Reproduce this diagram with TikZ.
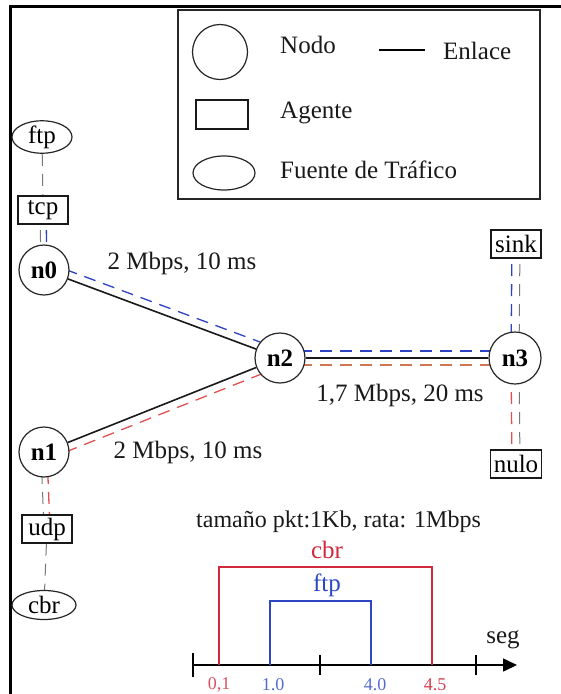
\documentclass[tikz,border=0pt]{standalone}
\usepackage{fontspec}
\setmainfont{Liberation Serif}
\usetikzlibrary{calc,arrows.meta,backgrounds,shapes.geometric}
\definecolor{lblue}{RGB}{45,65,195}
\definecolor{lred}{RGB}{225,80,80}
\definecolor{lorange}{RGB}{205,120,85}
\definecolor{lgray}{RGB}{120,120,120}
\definecolor{tred}{RGB}{210,40,60}
\definecolor{tblue}{RGB}{45,70,195}
\begin{document}
\begin{tikzpicture}[x=1pt,y=-1pt,
  txt/.style={font=\fontsize{25}{28}\selectfont, inner sep=0pt, text=black!90},
  small/.style={font=\fontsize{24}{27}\selectfont, inner sep=0pt, text=black!90},
  tick/.style={font=\fontsize{18}{20}\selectfont, inner sep=0pt},
  nodo/.style={circle, draw=black!85, line width=1.2pt, fill=white, minimum size=50pt, inner sep=0pt, font=\fontsize{25}{28}\selectfont\bfseries},
  agente/.style={rectangle, draw=black!90, line width=1.3pt, fill=white, inner xsep=3pt, inner ysep=0pt, minimum width=50pt, minimum height=28pt, font=\fontsize{25}{28}\selectfont},
  fuente/.style={ellipse, draw=black!85, line width=1.2pt, fill=white, inner sep=0pt, minimum width=60pt, minimum height=29pt, font=\fontsize{25}{28}\selectfont},
  link/.style={draw=black!90, line width=1.6pt},
  bdash/.style={draw=lblue, line width=1.3pt, dash pattern=on 12pt off 8pt},
  rdash/.style={draw=lred, line width=1.3pt, dash pattern=on 12pt off 8pt},
  odash/.style={draw=lorange, line width=1.3pt, dash pattern=on 12pt off 8pt},
  gdash/.style={draw=lgray, line width=1pt, dash pattern=on 12pt off 8pt},
]
\useasboundingbox (0,0) rectangle (561,694);
% frame
\draw[line width=3pt] (10,694) -- (10,6) -- (561,6);

% legend
\node[draw=black!85, line width=1.3pt, minimum width=362pt, minimum height=189pt, inner sep=0pt] (legend) at (359,104.5) {};
\node[circle, draw=black!85, line width=1.2pt, minimum size=55pt, inner sep=0pt] (lnodo) at (220,52) {};
\node[txt, anchor=west] (tnodo) at (280,45) {Nodo};
\coordinate (ll1) at (379,50);
\coordinate (ll2) at (425,50);
\draw[line width=1.3pt] (ll1) -- (ll2);
\node[txt, anchor=west] (tenlace) at (443,51) {Enlace};
\node[draw=black!90, line width=1.3pt, minimum width=52pt, minimum height=29pt, inner sep=0pt] (lagente) at (222,114.5) {};
\node[txt, anchor=west] (tagente) at (280,113) {Agente};
\node[ellipse, draw=black!85, line width=1.2pt, minimum width=62pt, minimum height=34pt, inner sep=0pt] (lfuente) at (224,173) {};
\node[txt, anchor=west] (tfuente) at (280,170) {Fuente de Tráfico};

% network nodes
\node[nodo] (n0) at (44,270) {n0};
\node[nodo] (n1) at (44,452) {n1};
\node[nodo] (n2) at (280,358) {n2};
\node[nodo, minimum size=52pt] (n3) at (515,358) {n3};
\node[fuente] (ftp) at (42,137) {ftp};
\node[agente] (tcp) at (43,210) {tcp};
\node[agente] (sink) at (516,244) {sink};
\node[agente] (nulo) at (516,464) {nulo};
\node[agente] (udp) at (47,529) {udp};
\node[fuente, minimum width=64pt] (cbr) at (44,605) {cbr};

% link labels
\node[txt] (l02) at (182,263) {2 Mbps, 10 ms};
\node[txt] (l12) at (188,452) {2 Mbps, 10 ms};
\node[txt] (l23) at (400,395) {1,7 Mbps, 20 ms};
\node[small, anchor=west] (info) at (196,522) {tamaño pkt:1Kb, rata: 1Mbps};

\begin{scope}[on background layer]
  % links
  \draw[link] (n0) -- (n2);
  \draw[link] (n1) -- (n2);
  \draw[link] (n2) -- (n3);
  % flows
  \draw[bdash] ($(n0)!8pt!90:(n2)$) -- ($(n2)!8pt!-90:(n0)$);
  \draw[rdash] ($(n1)!8pt!-90:(n2)$) -- ($(n2)!8pt!90:(n1)$);
  \draw[bdash] ($(n2)!7pt!90:(n3)$) -- ($(n3)!7pt!-90:(n2)$);
  \draw[odash] ($(n2)!7pt!-90:(n3)$) -- ($(n3)!7pt!90:(n2)$);
  % vertical attachments
  \draw[gdash] (ftp) -- (tcp);
  \draw[gdash] ([xshift=-3pt]tcp.center) -- ([xshift=-3pt]n0.center);
  \draw[bdash] ([xshift=3pt]tcp.center) -- ([xshift=3pt]n0.center);
  \draw[bdash] ([xshift=-4pt]sink.center) -- ([xshift=-4pt]n3.center);
  \draw[gdash] ([xshift=4pt]sink.center) -- ([xshift=4pt]n3.center);
  \draw[rdash] ([xshift=-4pt]nulo.center) -- ([xshift=-4pt]n3.center);
  \draw[gdash] ([xshift=4pt]nulo.center) -- ([xshift=4pt]n3.center);
  \draw[gdash] ([xshift=-3pt]n1.center) -- ([xshift=-3pt]udp.center);
  \draw[rdash] ([xshift=3pt]n1.center) -- ([xshift=3pt]udp.center);
  \draw[gdash] (udp) -- (cbr);
\end{scope}

% timeline
\coordinate (t0) at (193,665);
\coordinate (tend) at (517,665);
\draw[line width=1.6pt, -{Triangle[length=14pt,width=13pt]}] (t0) -- (tend);
\draw[line width=1.6pt] (193,653) -- (193,677);
\draw[line width=1.6pt] (320,655) -- (320,675);
\draw[line width=1.6pt] (476,655) -- (476,675);
\draw[tred, line width=1.3pt] (219,665) -- (219,567) -- (432,567) -- (432,665);
\draw[tblue, line width=1.3pt] (270,665) -- (270,601) -- (371,601) -- (371,665);
\node[txt, text=tred] (lcbr) at (327,550) {cbr};
\node[txt, text=tblue] (lftp) at (327,585) {ftp};
\node[txt] (lseg) at (503,640) {seg};
\node[tick, text=tred!80] (k01) at (219,685) {0,1};
\node[tick, text=tblue!80] (k10) at (273,685) {1.0};
\node[tick, text=tblue!80] (k40) at (375,685) {4.0};
\node[tick, text=tred!90] (k45) at (435,685) {4.5};
\end{tikzpicture}
\end{document}
